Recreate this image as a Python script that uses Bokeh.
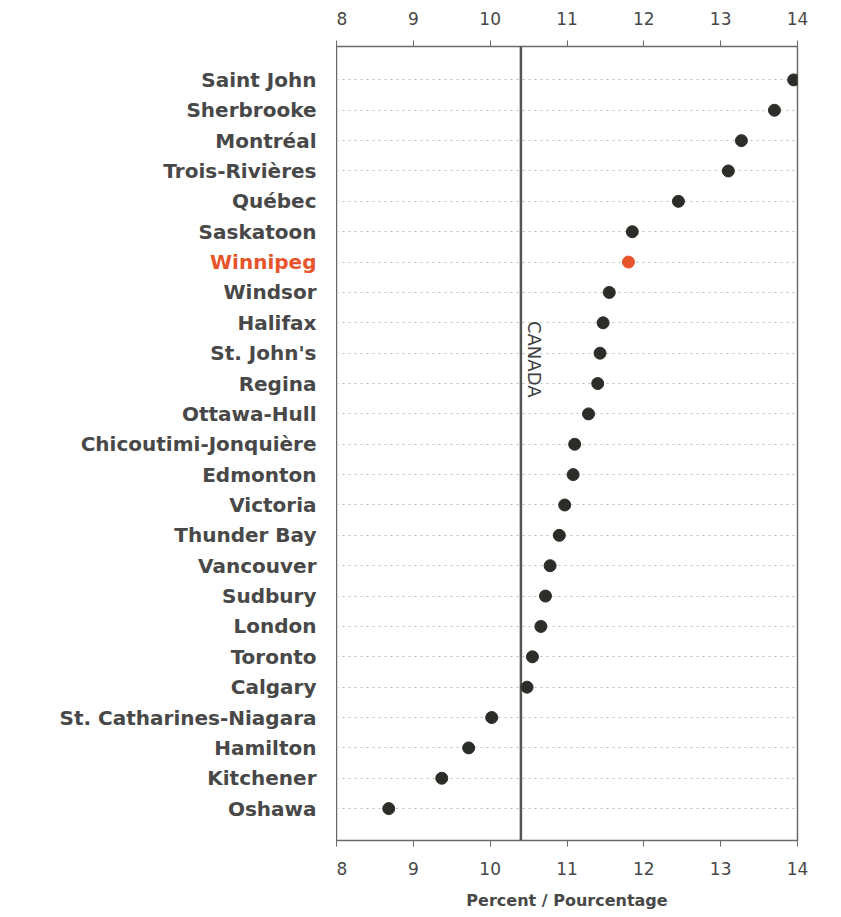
import math
from bokeh.plotting import figure
from bokeh.layouts import row
from bokeh.core.properties import value
from bokeh.models import Range1d, FixedTicker, LinearAxis, Label, ColumnDataSource
from bokeh.embed import file_html
from bokeh.resources import INLINE

cities = ["Saint John", "Sherbrooke", "Montréal", "Trois-Rivières", "Québec",
          "Saskatoon", "Winnipeg", "Windsor", "Halifax", "St. John's", "Regina",
          "Ottawa-Hull", "Chicoutimi-Jonquière", "Edmonton", "Victoria",
          "Thunder Bay", "Vancouver", "Sudbury", "London", "Toronto", "Calgary",
          "St. Catharines-Niagara", "Hamilton", "Kitchener", "Oshawa"]
values = [13.95, 13.7, 13.27, 13.1, 12.45, 11.85, 11.8, 11.55, 11.47, 11.43,
          11.4, 11.28, 11.1, 11.08, 10.97, 10.9, 10.78, 10.72, 10.66, 10.55,
          10.48, 10.02, 9.72, 9.37, 8.68]
canada_value = 10.4
highlight = "Winnipeg"
x_ticks = [8, 9, 10, 11, 12, 13, 14]
x_title = "Percent / Pourcentage"
canada_label = "CANADA"

TEXT = "#484848"
DOT = "#2b2e28"
HIL = "#e8542a"
FONT = "DejaVu Sans"

n = len(cities)
rows = list(range(n))
colors = [HIL if c == highlight else DOT for c in cities]
label_colors = [HIL if c == highlight else TEXT for c in cities]
src = ColumnDataSource(dict(y=rows, x=values, c=colors, name=cities,
                            lc=label_colors, lx=[1] * n))

H = 912
TOP = 46
BOTTOM = 67
y_lo, y_hi = n - 1 + 1.05, -1.1

# left panel with the category labels
lab = figure(width=336, height=H, output_backend="svg", toolbar_location=None,
             x_range=Range1d(0, 1), y_range=Range1d(y_lo, y_hi),
             x_axis_location=None, y_axis_location=None,
             min_border_left=0, min_border_right=0, min_border_top=TOP,
             min_border_bottom=BOTTOM)
lab.outline_line_color = None
lab.grid.visible = False
lab.text(x="lx", y="y", text="name", source=src, x_offset=-20,
         text_align="right", text_baseline="middle", text_font=value(FONT),
         text_font_size="20px", text_font_style="bold", text_color="lc")

p = figure(width=497, height=H, output_backend="svg", toolbar_location=None,
           x_range=Range1d(8, 14), y_range=lab.y_range,
           x_axis_location=None, y_axis_location=None,
           min_border_left=0, min_border_right=36, min_border_top=TOP,
           min_border_bottom=BOTTOM)
p.background_fill_color = "white"
p.border_fill_color = "white"
p.outline_line_color = "#6a6a6a"
p.outline_line_width = 1.5

p.xgrid.visible = False
p.ygrid.ticker = FixedTicker(ticks=rows)
p.ygrid.grid_line_color = "#bdbdbd"
p.ygrid.grid_line_dash = "2 4"
p.ygrid.grid_line_width = 1

for loc in ("above", "below"):
    ax = LinearAxis(ticker=FixedTicker(ticks=x_ticks))
    ax.axis_line_color = None
    ax.major_tick_line_color = "#6a6a6a"
    ax.major_tick_out = 6
    ax.major_tick_in = 0
    ax.minor_tick_line_color = None
    ax.major_label_text_font = FONT
    ax.major_label_text_font_size = "17px"
    ax.major_label_text_color = TEXT
    ax.major_label_standoff = 16 if loc == "above" else 15
    if loc == "below":
        ax.axis_label = x_title
        ax.axis_label_text_font = FONT
        ax.axis_label_text_font_size = "16px"
        ax.axis_label_text_font_style = "bold"
        ax.axis_label_text_color = TEXT
        ax.axis_label_standoff = 13
    p.add_layout(ax, loc)

p.segment(x0=[canada_value], x1=[canada_value], y0=[y_lo], y1=[y_hi],
          line_color="#555555", line_width=2.5)
p.add_layout(Label(x=canada_value, y=9.2, text=canada_label, x_offset=14,
                   angle=-math.pi / 2, text_align="center", text_baseline="middle",
                   text_font=FONT, text_font_size="18px", text_color="#404040"))

p.scatter(x="x", y="y", source=src, size=12, fill_color="c", line_color="c")

layout = row(lab, p, spacing=0)
open("out.html", "w").write(file_html(layout, INLINE))
